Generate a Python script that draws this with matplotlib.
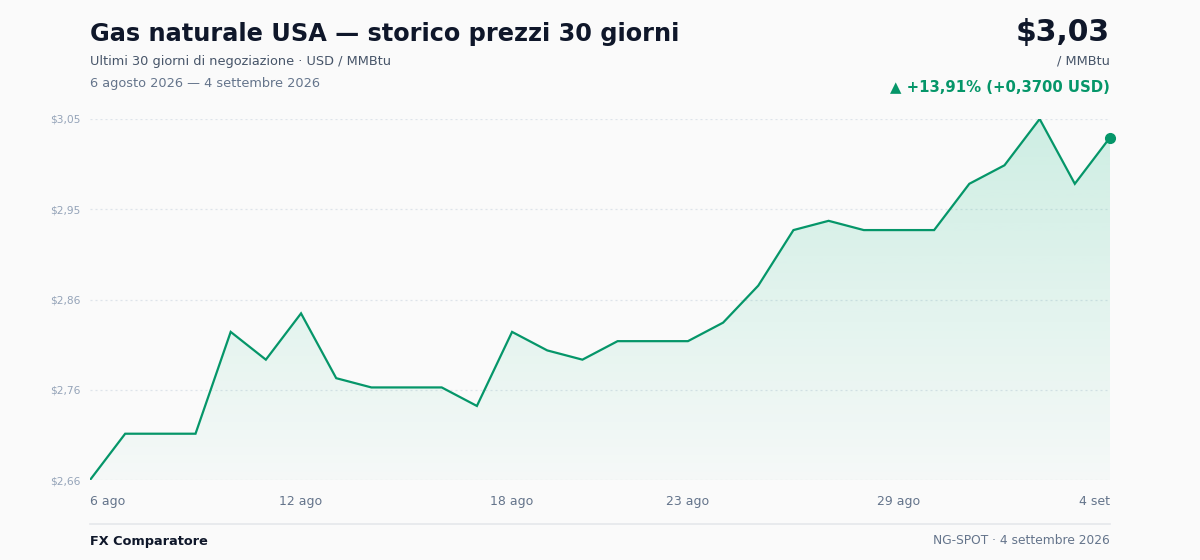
import matplotlib
matplotlib.use("Agg")
import matplotlib.pyplot as plt
import numpy as np
from matplotlib.colors import to_rgb
from matplotlib.lines import Line2D

# ---- data ----
prices = [2.66, 2.71, 2.71, 2.71, 2.82, 2.79, 2.84, 2.77, 2.76, 2.76,
          2.76, 2.74, 2.82, 2.80, 2.79, 2.81, 2.81, 2.81, 2.83, 2.87,
          2.93, 2.94, 2.93, 2.93, 2.93, 2.98, 3.00, 3.05, 2.98, 3.03]
xtick_idx = [0, 6, 12, 17, 23, 29]
xtick_labels = ["6 ago", "12 ago", "18 ago", "23 ago", "29 ago", "4 set"]
ytick_labels = ["$2,66", "$2,76", "$2,86", "$2,95", "$3,05"]
y_min, y_max = 2.66, 3.05

title = "Gas naturale USA — storico prezzi 30 giorni"
subtitle = "Ultimi 30 giorni di negoziazione · USD / MMBtu"
date_range = "6 agosto 2026 — 4 settembre 2026"
price_label = "$3,03"
unit_label = "/ MMBtu"
change_label = "▲ +13,91% (+0,3700 USD)"
footer_left = "FX Comparatore"
footer_right = "NG-SPOT · 4 settembre 2026"

# ---- style ----
BG = "#fafafa"
GREEN = "#059669"
FILL = "#10b981"
DARK = "#0f172a"
GRAY = "#475569"
GRAY2 = "#64748b"
LIGHT = "#94a3b8"
GRID = "#dde3ea"

W, H = 1200, 560
fig = plt.figure(figsize=(W / 100, H / 100), dpi=100, facecolor=BG)

def fx(px):
    return px / W

def fy(py):
    return 1 - py / H

ax = fig.add_axes([fx(90), fy(480), fx(1110) - fx(90), fy(119) - fy(480)])
ax.set_facecolor(BG)
n = len(prices)
x = np.arange(n)

# gradient fill
rgb = to_rgb(FILL)
grad = np.zeros((256, 1, 4))
grad[:, 0, 0] = rgb[0]
grad[:, 0, 1] = rgb[1]
grad[:, 0, 2] = rgb[2]
grad[:, 0, 3] = np.linspace(0.19, 0.02, 256)
poly = ax.fill_between(x, prices, y_min, color="none", lw=0)
img = ax.imshow(grad, aspect="auto", extent=[0, n - 1, y_min, y_max],
                origin="upper", zorder=1)
path = poly.get_paths()[0]
img.set_clip_path(path, transform=ax.transData)

ax.plot(x, prices, color=GREEN, lw=1.6, zorder=3, solid_joinstyle="miter")
ax.plot([x[-1]], [prices[-1]], "o", color=GREEN, ms=7, zorder=4, clip_on=False)

ax.set_xlim(0, n - 1)
ax.set_ylim(y_min, y_max)

yt = np.linspace(y_min, y_max, 5)
for v in yt:
    ax.axhline(v, color=GRID, lw=0.9, ls=(0, (1.6, 2.4)), zorder=0)
ax.set_yticks(yt)
ax.set_yticklabels(ytick_labels)
ax.tick_params(axis="y", length=0, pad=7, labelsize=7.7, labelcolor=LIGHT)
ax.set_xticks(xtick_idx)
ax.set_xticklabels(xtick_labels)
ax.tick_params(axis="x", length=0, pad=11, labelsize=9, labelcolor=GRAY2)
labels = ax.get_xticklabels()
labels[0].set_ha("left")
labels[-1].set_ha("right")
for s in ax.spines.values():
    s.set_visible(False)

# header
fig.text(fx(90), fy(34), title, fontsize=17.3, fontweight="bold", color=DARK, va="center", ha="left")
fig.text(fx(90), fy(61), subtitle, fontsize=9.3, color=GRAY, va="center", ha="left")
fig.text(fx(90), fy(83), date_range, fontsize=9.3, color=GRAY2, va="center", ha="left")
fig.text(fx(1110), fy(32), price_label, fontsize=21.5, fontweight="bold", color=DARK, va="center", ha="right")
fig.text(fx(1110), fy(61), unit_label, fontsize=9.3, color=GRAY, va="center", ha="right")
fig.text(fx(1110), fy(87), change_label, fontsize=10.75, fontweight="bold", color=GREEN, va="center", ha="right")

# footer
fig.add_artist(Line2D([fx(90), fx(1110)], [fy(524), fy(524)], color="#e5e7eb", lw=1.2, transform=fig.transFigure))
fig.text(fx(90), fy(541), footer_left, fontsize=9.3, fontweight="bold", color=DARK, va="center", ha="left")
fig.text(fx(1110), fy(541), footer_right, fontsize=8.8, color=GRAY2, va="center", ha="right")

fig.savefig("out.png", dpi=100, facecolor=BG)
